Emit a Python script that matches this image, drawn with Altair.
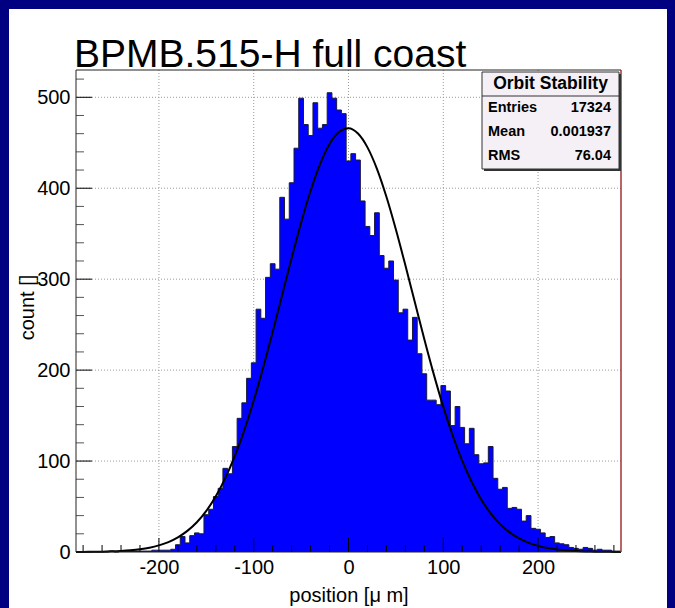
import altair as alt
import pandas as pd

# ---------------- data ----------------
bin_centers = list(range(-285, 290, 5))          # 115 bins, width 5 um
counts = [
    0, 0, 0, 0, 0, 0, 0, 1, 0,                   # -285 .. -245
    1, 1, 1, 1, 1, 1, 1, 2, 2, 2, 2, 3,          # -240 .. -185
    8, 17, 10, 18, 21, 20,                       # -180 .. -155
    41, 47, 61, 70, 92, 86,                      # -150 .. -125
    116, 147, 164, 191, 208,                     # -120 .. -100
    267, 257, 302, 317, 311,                     # -95 .. -75
    390, 366, 406, 444, 499,                     # -70 .. -50
    470, 458, 494, 466, 470,                     # -45 .. -25
    505, 499, 486, 482, 430,                     # -20 .. 0
    438, 431, 386, 358, 348,                     # 5 .. 25
    373, 326, 312, 320, 299,                     # 30 .. 50
    263, 267, 233, 258, 218,                     # 55 .. 75
    196, 167, 167, 162, 183,                     # 80 .. 100
    177, 139, 160, 137, 119,                     # 105 .. 125
    136, 107, 97, 98, 116,                       # 130 .. 150
    81, 69, 71, 48, 49,                          # 155 .. 175
    47, 34, 40, 26, 25,                          # 180 .. 200
    21, 16, 17, 10, 9,                           # 205 .. 225
    8, 5, 4, 3, 5, 4, 2, 3, 2, 2, 1, 1,          # 230 .. 285
]
bin_width = 5

fit_x = [-287.5] + list(range(-280, 290, 10)) + [287.5]
fit_y = [
    0.08, 0.13, 0.23, 0.41, 0.69, 1.16, 1.89, 3.0, 4.7, 7.3, 10.9, 16.1,
    23.2, 32.7, 45.2, 61.3, 81.2, 105.3, 133.8, 166.5, 202.8, 241.9, 282.6,
    323.3, 362.1, 397.2, 426.6, 448.7, 462.0, 466.0, 460.1, 444.9, 421.3,
    390.6, 354.6, 315.2, 274.5, 233.9, 195.3, 159.6, 127.8, 100.1, 76.9,
    57.8, 42.5, 30.6, 21.6, 14.9, 10.1, 6.7, 4.3, 2.8, 1.7, 1.05, 0.62,
    0.36, 0.21, 0.12, 0.07,
]

x_major = [-200, -100, 0, 100, 200]
x_minor = [-280, -260, -240, -220, -180, -160, -140, -120, -80, -60, -40, -20,
           20, 40, 60, 80, 120, 140, 160, 180, 220, 240, 260, 280]
y_major = [0, 100, 200, 300, 400, 500]
y_minor = [20, 40, 60, 80, 120, 140, 160, 180, 220, 240, 260, 280,
           320, 340, 360, 380, 420, 440, 460, 480, 520]
y_grid = [100, 200, 300, 400, 500]

title_text = "BPMB.515-H full coast"
x_title = "position [\u03bc m]"
y_title = "count []"
stats_title = "Orbit Stability"
stats_names = ["Entries", "Mean", "RMS"]
stats_values = ["17324", "0.001937", "76.04"]

# ---------------- layout ----------------
W, H = 545, 482
FONT = "Liberation Sans"
xs = alt.Scale(domain=[-287.5, 287.5], nice=False, zero=False)
ys = alt.Scale(domain=[0, 530], nice=False, zero=False)

neg_label = "datum.value < 0 ? '-' + abs(datum.value) : '' + datum.value"
xa = alt.Axis(
    values=x_major, title=x_title, grid=False, ticks=False, domain=False,
    labelFont=FONT, labelFontSize=20, labelColor="black", labelPadding=5,
    labelExpr=neg_label,
    titleFont=FONT, titleFontSize=20, titleFontWeight="normal",
    titleColor="black", titleY=49, titleBaseline="alphabetic", zindex=1)
ya = alt.Axis(
    values=y_major, title=y_title, grid=False, ticks=False, domain=False,
    labelFont=FONT, labelFontSize=20, labelColor="black", labelPadding=6,
    titleFont=FONT, titleFontSize=20, titleFontWeight="normal",
    titleColor="black", titleAngle=270, titleX=-49, titleY=237,
    titleAlign="center", titleBaseline="middle", zindex=1)

step = pd.DataFrame({
    "x": [c - bin_width / 2 for c in bin_centers] + [bin_centers[-1] + bin_width / 2],
    "n": counts + [counts[-1]],
})
fit = pd.DataFrame({"x": fit_x, "y": fit_y})
one = pd.DataFrame({"a": [0]})

bg = alt.Chart(one).mark_rect(color="white", clip=False).encode(
    x=alt.value(-67), x2=alt.value(591), y=alt.value(-61), y2=alt.value(539))

xgrid = alt.Chart(pd.DataFrame({"x": x_major})).mark_rule(
    color="#9a9a9a", strokeDash=[1, 2], strokeWidth=1).encode(
    x=alt.X("x:Q", scale=xs, axis=xa))
ygrid = alt.Chart(pd.DataFrame({"n": y_grid})).mark_rule(
    color="#9a9a9a", strokeDash=[1, 2], strokeWidth=1).encode(
    y=alt.Y("n:Q", scale=ys, axis=ya))

bars = alt.Chart(step).mark_area(
    interpolate="step-after", color="#0000ff", opacity=1).encode(
    x=alt.X("x:Q", scale=xs, axis=xa),
    y=alt.Y("n:Q", scale=ys, axis=ya),
)

outline = alt.Chart(step).mark_line(
    interpolate="step-after", color="#1a1a3a", strokeWidth=1).encode(
    x=alt.X("x:Q", scale=xs, axis=xa), y=alt.Y("n:Q", scale=ys, axis=ya))

curve = alt.Chart(fit).mark_line(
    interpolate="monotone", color="black", strokeWidth=2).encode(
    x=alt.X("x:Q", scale=xs, axis=xa), y=alt.Y("y:Q", scale=ys, axis=ya))

xt_major = alt.Chart(pd.DataFrame({"x": x_major})).mark_rule(color="black").encode(
    x=alt.X("x:Q", scale=xs, axis=xa), y=alt.value(H), y2=alt.value(H - 14))
xt_minor = alt.Chart(pd.DataFrame({"x": x_minor})).mark_rule(color="black").encode(
    x=alt.X("x:Q", scale=xs, axis=xa), y=alt.value(H), y2=alt.value(H - 7))
yt_major = alt.Chart(pd.DataFrame({"n": y_major})).mark_rule(color="black").encode(
    y=alt.Y("n:Q", scale=ys, axis=ya), x=alt.value(0), x2=alt.value(16))
yt_minor = alt.Chart(pd.DataFrame({"n": y_minor})).mark_rule(color="#555555").encode(
    y=alt.Y("n:Q", scale=ys, axis=ya), x=alt.value(0), x2=alt.value(8))

frame = alt.Chart(one).mark_rect(fillOpacity=0, stroke="#222222", strokeWidth=1).encode(
    x=alt.value(0), x2=alt.value(W), y=alt.value(0), y2=alt.value(H))
redline = alt.Chart(one).mark_rule(color="#e03a3a", strokeWidth=1).encode(
    x=alt.value(W), y=alt.value(0), y2=alt.value(H))

# stats box
BX0, BX1, BY0, BY1 = 406, 543, 2, 99
shadow = alt.Chart(one).mark_rect(color="#333333").encode(
    x=alt.value(BX0 + 2), x2=alt.value(BX1 + 2), y=alt.value(BY0 + 2), y2=alt.value(BY1 + 2))
box = alt.Chart(one).mark_rect(fill="#f5f0f5", stroke="#333333", strokeWidth=1).encode(
    x=alt.value(BX0), x2=alt.value(BX1), y=alt.value(BY0), y2=alt.value(BY1))
sep = alt.Chart(one).mark_rule(color="#333333", strokeWidth=1).encode(
    x=alt.value(BX0), x2=alt.value(BX1), y=alt.value(26))
head = alt.Chart(pd.DataFrame({"t": [stats_title]})).mark_text(
    font=FONT, fontSize=17.5, fontWeight="bold", color="black",
    align="center", baseline="middle").encode(
    text="t:N", x=alt.value((BX0 + BX1) / 2), y=alt.value(14))

stat_layers = []
for i, (nm, val) in enumerate(zip(stats_names, stats_values)):
    ypos = 38 + 24 * i
    d = pd.DataFrame({"n": [nm], "v": [val]})
    stat_layers.append(alt.Chart(d).mark_text(
        font=FONT, fontSize=14.5, fontWeight="bold", color="black",
        align="left", baseline="middle").encode(
        text="n:N", x=alt.value(BX0 + 6), y=alt.value(ypos)))
    stat_layers.append(alt.Chart(d).mark_text(
        font=FONT, fontSize=14.5, fontWeight="bold", color="black",
        align="right", baseline="middle").encode(
        text="v:N", x=alt.value(BX1 - 8), y=alt.value(ypos)))

title = alt.Chart(pd.DataFrame({"t": [title_text]})).mark_text(
    font=FONT, fontSize=39, color="black", align="left",
    baseline="alphabetic").encode(
    text="t:N", x=alt.value(-2), y=alt.value(-3))

chart = alt.layer(
    bg, xgrid, ygrid, bars, outline, curve,
    xt_minor, xt_major, yt_minor, yt_major, frame, redline,
    shadow, box, sep, head, *stat_layers, title,
).properties(
    width=W, height=H,
    autosize=alt.AutoSizeParams(type="none"),
    padding={"left": 76, "top": 70, "right": 54, "bottom": 56},
).configure(background="#000080").configure_view(strokeWidth=0)

chart.save("out.html", embed_options={"renderer": "svg", "actions": False})
